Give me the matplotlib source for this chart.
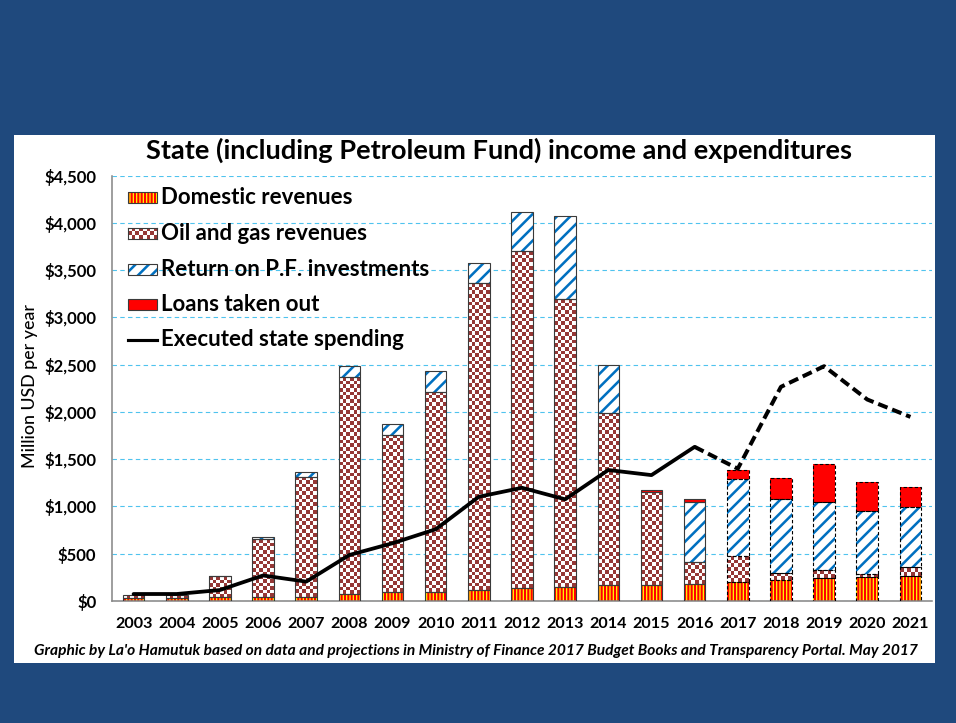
import numpy as np
import matplotlib as mpl
import matplotlib.pyplot as plt
from matplotlib.patches import Rectangle
from matplotlib.colors import ListedColormap

plt.rcParams['font.family'] = ['Lato', 'DejaVu Sans']
plt.rcParams['hatch.linewidth'] = 1.7
plt.rcParams['lines.scale_dashes'] = False

years = [str(y) for y in range(2003, 2022)]
domestic = [35, 35, 46, 45, 45, 70, 92, 92, 117, 141, 152, 166, 166, 177, 205, 222, 240, 257, 265]
oil = [29, 25, 218, 610, 1270, 2295, 1665, 2117, 3247, 3558, 3046, 1828, 992, 233, 271, 78, 88, 26, 92]
pf_return = [0, 0, 4, 25, 45, 120, 117, 229, 212, 412, 875, 506, 0, 641, 812, 776, 717, 673, 642]
loans = [0, 0, 0, 0, 0, 0, 0, 0, 0, 0, 0, 0, 20, 29, 99, 229, 402, 307, 205]
spending = [74, 74, 116, 270, 205, 487, 611, 759, 1103, 1198, 1076, 1386, 1332, 1631, 1400, 2266, 2484, 2132, 1948]
first_proj = 14  # 2017 onwards are projections

yticks = list(range(0, 4501, 500))
ytick_labels = ['$0', '$500', '$1,000', '$1,500', '$2,000', '$2,500', '$3,000', '$3,500', '$4,000', '$4,500']

legend_labels = ['Domestic revenues', 'Oil and gas revenues', 'Return on P.F. investments',
                 'Loans taken out', 'Executed state spending']

DPI = 80
W, H = 956, 723
fig = plt.figure(figsize=(W / DPI, H / DPI), dpi=DPI)
fig.patch.set_facecolor('#1F497D')
fig.add_artist(Rectangle((14 / W, 1 - 663 / H), (935 - 14) / W, (663 - 135) / H,
                         transform=fig.transFigure, facecolor='white', edgecolor='none', zorder=0))

ax_h = 425.3
ax = fig.add_axes([112 / W, 1 - 601 / H, 820 / W, ax_h / H])
ax.set_facecolor('white')

x = np.arange(len(years))
w = 0.5
dom = np.array(domestic, float)
oi = np.array(oil, float)
ret = np.array(pf_return, float)
lo = np.array(loans, float)

brown = '#953735'
blue = '#0070C0'
checker_cmap = ListedColormap(['white', brown])
px_per_unit = ax_h / 4500

# domestic revenues: yellow with red stripes
with mpl.rc_context({'hatch.linewidth': 1.9}):
    ax.bar(x, dom, w, color='#FFFF00', edgecolor='#FF0000', hatch='||||', linewidth=0, zorder=2)

# oil and gas: checkerboard
for i in x:
    if oi[i] <= 0:
        continue
    nr = max(1, int(round(oi[i] * px_per_unit / 3.7)))
    pat = np.add.outer(np.arange(nr), np.arange(6)) % 2
    ax.imshow(pat, cmap=checker_cmap, vmin=0, vmax=1, extent=[i - w / 2, i + w / 2, dom[i], dom[i] + oi[i]],
              aspect='auto', interpolation='nearest', origin='lower', zorder=2)

# return on PF investments
with mpl.rc_context({'hatch.linewidth': 2.3}):
    ax.bar(x, ret, w, bottom=dom + oi, color='white', edgecolor=blue, hatch='//', linewidth=0, zorder=2)
# loans
ax.bar(x, lo, w, bottom=dom + oi + ret, color='#FF0000', linewidth=0, zorder=2)

# segment outlines
for vals, bots in [(dom, 0 * dom), (oi, dom), (ret, dom + oi), (lo, dom + oi + ret)]:
    for i in x:
        if vals[i] <= 0:
            continue
        if i >= first_proj:
            ax.bar(i, vals[i], w, bottom=bots[i], fill=False, edgecolor='black', linewidth=1,
                   linestyle=(0, (3, 2)), zorder=3)
        else:
            ax.bar(i, vals[i], w, bottom=bots[i], fill=False, edgecolor='#3a3a3a', linewidth=1, zorder=3)

# executed spending line
ax.plot(x[:first_proj], spending[:first_proj], color='black', lw=3.4, zorder=4,
        solid_joinstyle='round', solid_capstyle='round')
ax.plot(x[first_proj - 1:], spending[first_proj - 1:], color='black', lw=3.6, zorder=4,
        dashes=(9, 4.5))

ax.set_xlim(-0.5, 18.5)
ax.set_ylim(0, 4500)
ax.set_xticks(x)
ax.set_xticklabels(years, fontsize=14.5, fontweight='bold')
ax.set_yticks(yticks)
ax.set_yticklabels(ytick_labels, fontsize=15, fontweight='bold')
ax.tick_params(length=0)
ax.tick_params(axis='y', pad=14)
ax.tick_params(axis='x', pad=14)
ax.yaxis.grid(True, color='#4FC3EE', linestyle=(0, (4, 3)), linewidth=1)
ax.set_axisbelow(True)
for s in ['top', 'right']:
    ax.spines[s].set_visible(False)
for s in ['left', 'bottom']:
    ax.spines[s].set_color('#868686')
    ax.spines[s].set_linewidth(1.4)

# legend
rows = [0.9476, 0.863, 0.780, 0.696, 0.614]
sx, sw, sh = 0.0195, 0.0354, 0.0259
tx = 0.0598
with mpl.rc_context({'hatch.linewidth': 1.9}):
    ax.add_patch(Rectangle((sx, rows[0] - sh / 2), sw, sh, transform=ax.transAxes, facecolor='#FFFF00',
                           edgecolor='#FF0000', hatch='||||', linewidth=0, zorder=5))
ax.add_patch(Rectangle((sx, rows[0] - sh / 2), sw, sh, transform=ax.transAxes, fill=False,
                       edgecolor='#3a3a3a', linewidth=1, zorder=6))
sub = ax.inset_axes([sx, rows[1] - sh / 2, sw, sh])
sub.imshow(np.add.outer(np.arange(3), np.arange(8)) % 2, cmap=checker_cmap, vmin=0, vmax=1,
           aspect='auto', interpolation='nearest')
sub.set_xticks([])
sub.set_yticks([])
for s in sub.spines.values():
    s.set_color('#3a3a3a')
    s.set_linewidth(1)
with mpl.rc_context({'hatch.linewidth': 2.3}):
    ax.add_patch(Rectangle((sx, rows[2] - sh / 2), sw, sh, transform=ax.transAxes, facecolor='white',
                           edgecolor=blue, hatch='//', linewidth=0, zorder=5))
ax.add_patch(Rectangle((sx, rows[2] - sh / 2), sw, sh, transform=ax.transAxes, fill=False,
                       edgecolor='#3a3a3a', linewidth=1, zorder=6))
ax.add_patch(Rectangle((sx, rows[3] - sh / 2), sw, sh, transform=ax.transAxes, facecolor='#FF0000',
                       edgecolor='#3a3a3a', linewidth=1, zorder=5))
ax.plot([sx, sx + sw], [rows[4], rows[4]], transform=ax.transAxes, color='black', lw=2.8, zorder=5)
for r, lab in zip(rows, legend_labels):
    ax.text(tx, r, lab, transform=ax.transAxes, va='center', ha='left', fontsize=20, fontweight='bold', zorder=6)

fig.text(30 / W, 1 - 386 / H, 'Million USD per year', rotation=90, ha='center', va='center',
         fontsize=16, fontweight='medium')
fig.text(499 / W, 1 - 150 / H, 'State (including Petroleum Fund) income and expenditures',
         ha='center', va='center', fontsize=24.5, fontweight='bold')
fig.text(476 / W, 1 - 651 / H,
         "Graphic by La'o Hamutuk based on data and projections in Ministry of Finance 2017 Budget Books and Transparency Portal. May 2017",
         ha='center', va='center', fontsize=14, fontweight='bold', style='italic')

fig.savefig('out.png', dpi=DPI, facecolor=fig.get_facecolor())
